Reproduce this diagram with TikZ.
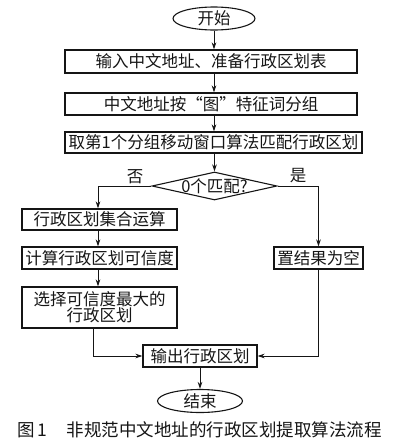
\documentclass[tikz,border=0pt]{standalone}
\usepackage{fontspec}
\newfontfamily\cjk{Noto Sans CJK SC}
\usetikzlibrary{shapes.geometric,arrows.meta}
\definecolor{ink}{HTML}{151515}
\tikzset{
  every node/.style={font=\cjk\fontsize{16.5}{20}\selectfont, text=ink},
  box/.style={draw=ink, line width=1.1pt, rectangle, inner sep=0pt, align=center},
  term/.style={draw=ink, line width=1.1pt, ellipse, inner sep=0pt},
  conn/.style={draw=ink, line width=1pt, -{Stealth[length=7pt,width=4.5pt]}},
  plain/.style={draw=ink, line width=1pt}
}
\begin{document}
\begin{tikzpicture}[x=1pt,y=-1pt]
\useasboundingbox (0,0) rectangle (402,442);
\node[term, minimum width=82, minimum height=23] (start) at (214,18.5) {开始};
\node[box, minimum width=292, minimum height=23] (b1) at (211,61.5) {输入中文地址、准备行政区划表};
\node[box, minimum width=292, minimum height=22] (b2) at (211,104) {中文地址按“图”特征词分组};
\node[box, minimum width=297, minimum height=21] (b3) at (213.5,142.5) {取第1个分组移动窗口算法匹配行政区划};
\node[diamond, draw=ink, line width=1.1pt, minimum width=125, minimum height=28, inner sep=0pt, aspect=4.46] (dia) at (214.5,186) {};
\node (diat) at (dia.center) {0个匹配?};
\node (no) at (135,177) {否};
\node (yes) at (298,176) {是};
\node[box, minimum width=155, minimum height=21] (a) at (99.5,219.5) {行政区划集合运算};
\node[box, minimum width=155, minimum height=22] (b) at (99.5,258) {计算行政区划可信度};
\node[box, minimum width=155, minimum height=41] (c) at (99.5,307.5) {选择可信度最大的\\[-4pt]行政区划};
\node[box, minimum width=89, minimum height=22] (r) at (318.5,258) {置结果为空};
\node[box, minimum width=114, minimum height=22] (out) at (200,356) {输出行政区划};
\node[term, minimum width=85, minimum height=23] (end) at (200,401) {结束};
\node[font=\cjk\fontsize{17.5}{20}\selectfont, anchor=west] (cap) at (14,430) {图\,1\hspace{1.1em}非规范中文地址的行政区划提取算法流程};
\draw[conn] (start.south) -- (start.south |- b1.north);
\draw[conn] (b1.south -| start.south) -- (b2.north -| start.south);
\draw[conn] (b2.south -| start.south) -- (b3.north -| start.south);
\draw[conn] (b3.south -| dia.north) -- (dia.north);
\draw[conn] (dia.west) -| ([xshift=-1.5]a.north);
\draw[conn] (dia.east) -| (r.north);
\draw[conn] ([xshift=-1.5]a.south) -- ([xshift=-1.5]b.north);
\draw[conn] ([xshift=-1.5]b.south) -- ([xshift=-1.5]c.north);
\draw[conn] ([xshift=-6.5]c.south) |- (out.west);
\draw[conn] (r.south) |- (out.east);
\draw[conn] (out.south) -- (end.north);
\end{tikzpicture}
\end{document}
